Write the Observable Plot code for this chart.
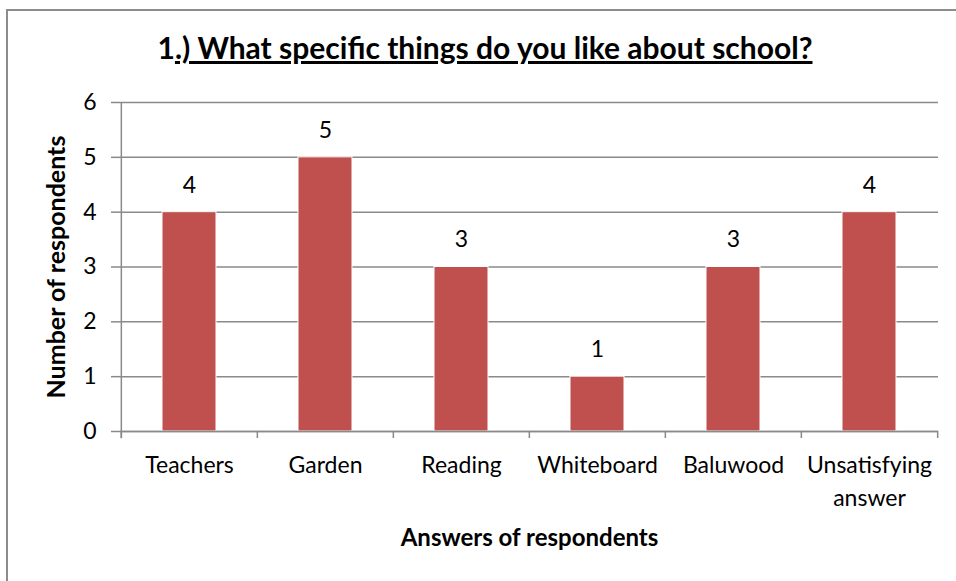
<!DOCTYPE html>
<html>
<head>
<meta charset="utf-8">
<script src="https://cdn.jsdelivr.net/npm/d3@7"></script>
<script src="https://cdn.jsdelivr.net/npm/@observablehq/plot@0.6"></script>
<style>
  html, body { margin: 0; padding: 0; background: #fff; }
  #wrap { position: relative; width: 956px; height: 581px; overflow: hidden; font-family: Lato, "Open Sans", sans-serif; }
  #border { position: absolute; left: 6px; top: 9px; width: 960px; height: 600px; border-left: 2px solid #8c8c8c; border-top: 2px solid #8c8c8c; }
  #title { position: absolute; left: 0; width: 970px; top: 29px; text-align: center; font-weight: bold; font-size: 30px; color: #000; }
  #chart { position: absolute; left: 0; top: 0; }
</style>
</head>
<body>
<div id="wrap">
  <div id="border"></div>
  <div id="chart"></div>
  <div id="title">1<u>.) What specific things do you like about school?</u></div>
</div>
<script>
const categories = ["Teachers", "Garden", "Reading", "Whiteboard", "Baluwood", "Unsatisfying answer"];
const values = [4, 5, 3, 1, 3, 4];
const tickLabels = ["Teachers", "Garden", "Reading", "Whiteboard", "Baluwood", "Unsatisfying\nanswer"];
const yTicks = [0, 1, 2, 3, 4, 5, 6];
const yLabel = "Number of respondents";
const xLabel = "Answers of respondents";

const data = categories.map((c, i) => ({category: c, value: values[i]}));

const W = 956, H = 581;
const mL = 120, mR = 18, mT = 102, mB = 150;
const step = (W - mL - mR) / categories.length;
const gridColor = "#8a8a8a";

const plot = Plot.plot({
  width: W,
  height: H,
  marginLeft: mL,
  marginRight: mR,
  marginTop: mT,
  marginBottom: mB,
  style: {fontFamily: "Lato, 'Open Sans', sans-serif", fontSize: "23px", color: "#000", background: "transparent"},
  x: {domain: categories, paddingInner: 0.6, paddingOuter: 0.3, align: 0.5},
  y: {domain: [0, 6], ticks: yTicks},
  marks: [
    Plot.gridY(yTicks, {stroke: gridColor, strokeOpacity: 1, strokeWidth: 1.5}),
    Plot.barY(data, {
      x: "category", y: "value", fill: "#C0504D",
      stroke: "#ffffff", strokeWidth: 1,
      style: "filter: drop-shadow(0px 0px 1.5px rgba(0,0,0,0.35));"
    }),
    Plot.ruleY([0], {stroke: gridColor, strokeWidth: 1.5}),
    // y axis line
    Plot.ruleX([categories[0]], {x: d => d, dx: -step / 2, y1: -0.13, y2: 6, stroke: gridColor, strokeWidth: 1.5}),
    Plot.axisY({
      ticks: yTicks, tickSize: 9, tickPadding: 15, label: null,
      stroke: gridColor, strokeWidth: 1.5, fontSize: 23, tickFormat: d => String(d)
    }),
    // x tick marks at band boundaries
    Plot.axisX({tickSize: 7, tickFormat: () => "", label: null, dx: -step / 2, stroke: gridColor, strokeWidth: 1.5}),
    Plot.axisX([categories[categories.length - 1]], {tickSize: 7, tickFormat: () => "", label: null, dx: step / 2, stroke: gridColor, strokeWidth: 1.5}),
    // x tick labels
    Plot.axisX({
      tickSize: 0, tickPadding: 19, label: null, fontSize: 23, lineHeight: 1.4,
      tickFormat: d => tickLabels[categories.indexOf(d)]
    }),
    Plot.text(data, {x: "category", y: "value", text: d => String(d.value), dy: -27, fontSize: 23, fill: "#000"}),
    Plot.text([yLabel], {frameAnchor: "left", textAnchor: "middle", lineAnchor: "middle", rotate: -90, dx: -64, fontSize: 25, fontWeight: "bold", fill: "#000"}),
    Plot.text([xLabel], {frameAnchor: "bottom", textAnchor: "middle", lineAnchor: "middle", dy: 107, fontSize: 24, fontWeight: "bold", fill: "#000"})
  ]
});
document.getElementById("chart").appendChild(plot);
</script>
</body>
</html>
